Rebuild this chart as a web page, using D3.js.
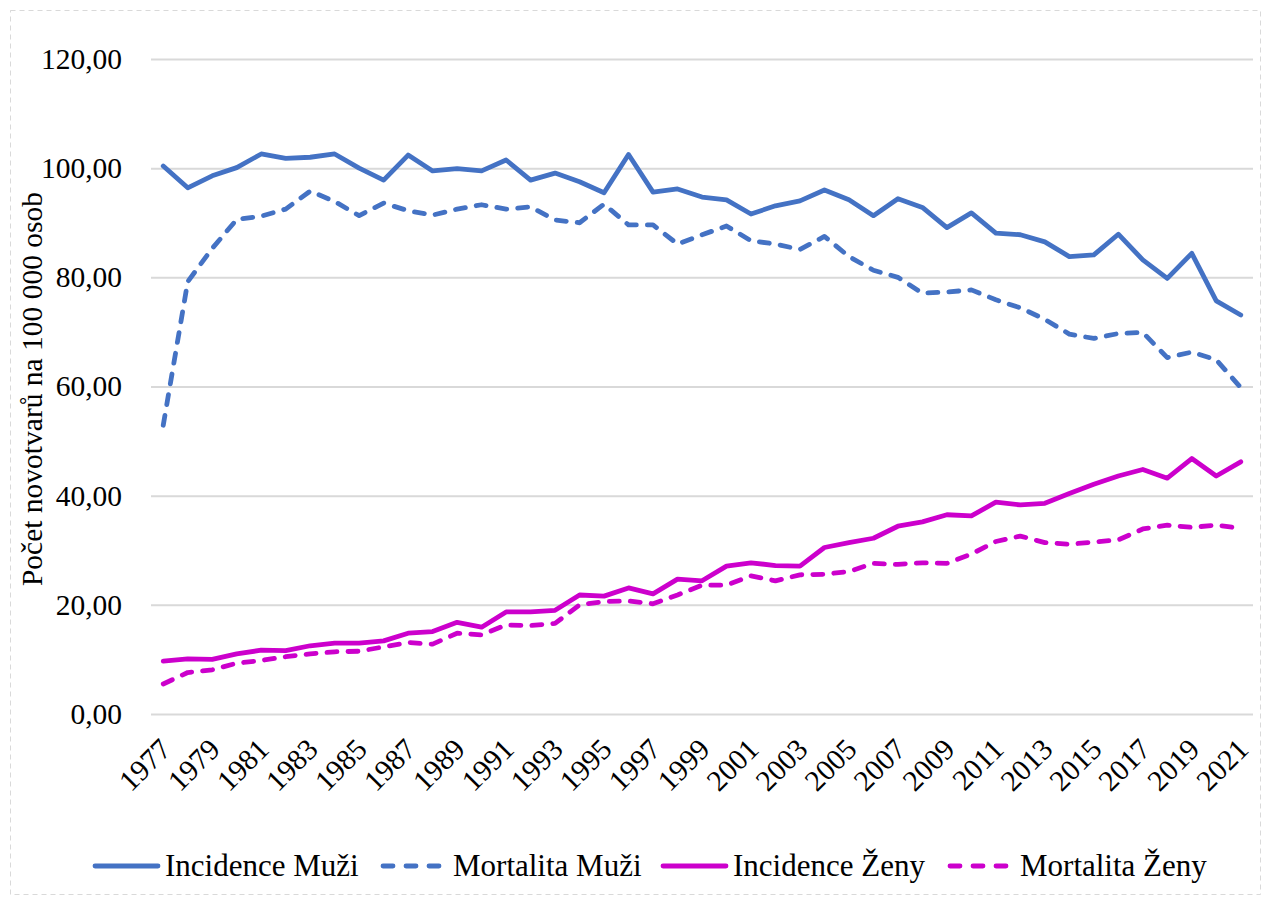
<!DOCTYPE html>
<html><head><meta charset="utf-8">
<script src="https://cdn.jsdelivr.net/npm/d3@7"></script>
<style>body{margin:0;background:#fff}svg{display:block}text{font-family:"Liberation Serif","Times New Roman",serif;fill:#000}</style>
</head><body><svg id="c" width="1269" height="903"></svg>
<script>
const years = d3.range(1977, 2022);
const incidenceMuzi = [100.4,96.4,98.6,100.1,102.6,101.8,102.0,102.6,100.0,97.8,102.4,99.5,99.9,99.5,101.5,97.8,99.1,97.5,95.5,102.5,95.6,96.2,94.7,94.2,91.6,93.1,94.0,96.0,94.2,91.3,94.4,92.8,89.1,91.8,88.1,87.8,86.5,83.8,84.1,87.9,83.2,79.8,84.4,75.7,73.1];
const mortalitaMuzi = [52.9,79.2,85.3,90.6,91.2,92.5,95.8,93.9,91.3,93.6,92.2,91.4,92.5,93.3,92.5,92.9,90.5,90.0,93.4,89.6,89.6,86.1,87.8,89.4,86.7,86.1,85.1,87.5,83.8,81.3,80.0,77.1,77.3,77.7,75.9,74.4,72.3,69.6,68.8,69.7,69.9,65.3,66.3,64.9,59.8];
const incidenceZeny = [9.7,10.1,10.0,11.0,11.7,11.6,12.5,13.0,13.0,13.4,14.8,15.1,16.8,15.9,18.7,18.7,19.0,21.8,21.6,23.1,22.0,24.7,24.4,27.1,27.7,27.2,27.1,30.5,31.4,32.2,34.4,35.2,36.5,36.3,38.8,38.3,38.6,40.4,42.1,43.6,44.8,43.2,46.8,43.6,46.2];
const mortalitaZeny = [5.5,7.6,8.1,9.3,9.8,10.5,11.0,11.4,11.5,12.3,13.1,12.8,14.8,14.5,16.3,16.2,16.6,20.0,20.6,20.7,20.2,21.8,23.6,23.6,25.3,24.4,25.5,25.6,26.1,27.6,27.4,27.7,27.6,29.3,31.6,32.6,31.4,31.1,31.5,31.9,33.9,34.6,34.2,34.6,34.0];
const yTicks = [0,20,40,60,80,100,120];
const xTickYears = years.filter(y => (y - 1977) % 2 === 0);
const seriesNames = ["Incidence Muži","Mortalita Muži","Incidence Ženy","Mortalita Ženy"];

const BLUE = "#4472C4", MAG = "#CC00CC";
const series = [
  {name: seriesNames[0], values: incidenceMuzi, color: BLUE, dash: null},
  {name: seriesNames[1], values: mortalitaMuzi, color: BLUE, dash: "10 11"},
  {name: seriesNames[2], values: incidenceZeny, color: MAG, dash: null},
  {name: seriesNames[3], values: mortalitaZeny, color: MAG, dash: "10 11"}
];

const svg = d3.select("#c");
svg.append("rect").attr("x",10.5).attr("y",10.5).attr("width",1250).attr("height",884)
  .attr("fill","none").attr("stroke","#D9D9D9").attr("stroke-width",1).attr("stroke-dasharray","5 4");

const pL = 151, pR = 1253, pT = 59, pB = 714;
const x = d3.scalePoint().domain(years).range([pL, pR]).padding(0.5);
const y = d3.scaleLinear().domain([0,120]).range([pB, pT]);

const gy = svg.append("g").attr("transform", `translate(${pL},0)`)
  .call(d3.axisLeft(y).tickValues(yTicks).tickSize(-(pR-pL)).tickFormat(d => d3.format(".2f")(d).replace(".", ",")));
gy.select(".domain").remove();
gy.selectAll(".tick line").attr("stroke","#D9D9D9").attr("stroke-width",2);
gy.selectAll(".tick text").attr("x",-29).attr("font-size",29.5).attr("font-family","Liberation Serif").attr("fill","#000");

const gx = svg.append("g").attr("transform", `translate(0,${pB})`)
  .call(d3.axisBottom(x).tickValues(xTickYears).tickSize(0));
gx.select(".domain").remove();
gx.selectAll(".tick text").attr("font-size",29.5).attr("font-family","Liberation Serif").attr("fill","#000")
  .attr("text-anchor","end").attr("dy",0).attr("y",0)
  .attr("transform","translate(9,37) rotate(-45)");

svg.append("text").attr("transform","translate(42,389) rotate(-90)").attr("text-anchor","middle")
  .attr("font-size",29.5).text("Počet novotvarů na 100 000 osob");

const line = d3.line().x((d,i) => x(years[i])).y(d => y(d));
series.forEach(s => {
  svg.append("path").datum(s.values).attr("d", line).attr("fill","none")
    .attr("stroke", s.color).attr("stroke-width",4.8).attr("stroke-linejoin","round")
    .attr("stroke-linecap","round").attr("stroke-dasharray", s.dash);
});

const legX = [92, 380, 660, 947];
const lg = svg.append("g");
series.forEach((s,i) => {
  const g = lg.append("g").attr("transform", `translate(${legX[i]},866)`);
  g.append("line").attr("x1",3).attr("x2",66).attr("y1",0).attr("y2",0)
    .attr("stroke", s.color).attr("stroke-width",4.8).attr("stroke-linecap","round")
    .attr("stroke-dasharray", s.dash ? "10 13" : null);
  g.append("text").attr("x", 73).attr("y", 10).attr("font-size",31).text(s.name);
});
</script></body></html>
